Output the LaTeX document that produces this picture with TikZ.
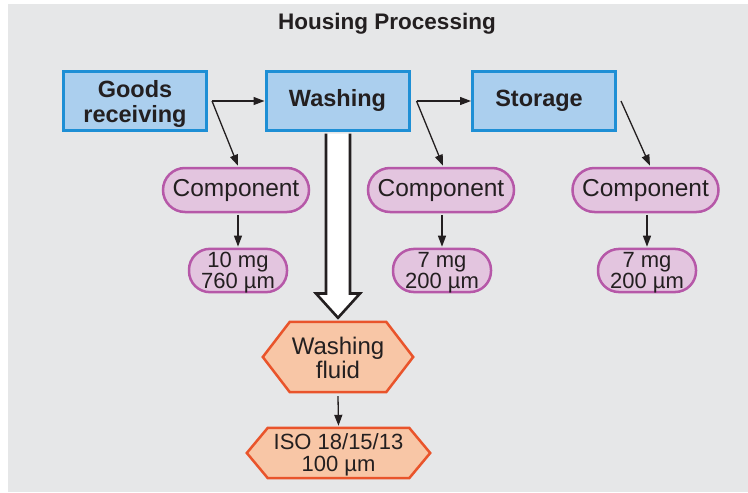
\documentclass[tikz,border=0pt]{standalone}
\usepackage{fontspec}
\setmainfont{Liberation Sans}
\usetikzlibrary{arrows.meta,calc,backgrounds}
\definecolor{bggray}{HTML}{E6E7E8}
\definecolor{boxfill}{HTML}{ABCFEE}
\definecolor{boxline}{HTML}{1E8FD5}
\definecolor{pillfill}{HTML}{E3C5DF}
\definecolor{pillline}{HTML}{B658A8}
\definecolor{hexfill}{HTML}{F8C6A6}
\definecolor{hexline}{HTML}{E9542B}
\definecolor{ink}{HTML}{231F20}
\newcommand{\lowertxt}[2]{\raisebox{-#1}[\height][\depth]{\begin{tabular}{@{}c@{}}#2\end{tabular}}}
\tikzset{
  stepbox/.style={draw=boxline, fill=boxfill, line width=3pt, minimum width=143pt, minimum height=59pt, inner sep=0pt, align=center, text=ink, font=\bfseries\fontsize{23.5}{24}\selectfont},
  bigpill/.style={draw=pillline, fill=pillfill, line width=2.5pt, rounded corners=22pt, minimum width=146pt, minimum height=44pt, inner sep=0pt, align=center, text=ink, font=\fontsize{24.5}{24}\selectfont},
  smallpill/.style={draw=pillline, fill=pillfill, line width=2.5pt, rounded corners=21pt, minimum width=98pt, minimum height=43pt, inner sep=0pt, align=center, text=ink, font=\fontsize{22}{21}\selectfont},
  hextext/.style={inner sep=0pt, align=center, text=ink},
  hexshape/.style={draw=hexline, fill=hexfill, line width=2.5pt, line join=miter},
  conn/.style={draw=ink, line width=1.3pt, -{Triangle[length=11pt,width=8pt]}},
  hollow/.style={draw=ink, fill=white, line width=2.6pt, line join=miter}
}
\begin{document}
\begin{tikzpicture}[x=1pt,y=-1pt]
\useasboundingbox (0,0) rectangle (748,493);
% title
\node[font=\bfseries\fontsize{22.5}{24}\selectfont, text=ink] (title) at (387,23.5) {Housing Processing};
% main steps
\node[stepbox] (gr) at (135,101) {\lowertxt{4pt}{Goods\\receiving}};
\node[stepbox] (wash) at (337.5,101) {\lowertxt{1pt}{Washing}};
\node[stepbox] (st) at (544,101) {\hspace*{-10pt}\lowertxt{1pt}{Storage}};
% components
\node[bigpill] (c1) at (236,190) {\lowertxt{1.5pt}{Component}};
\node[bigpill] (c2) at (441,190) {\lowertxt{1.5pt}{Component}};
\node[bigpill] (c3) at (645.5,190) {\lowertxt{1.5pt}{Component}};
\node[smallpill] (s1) at (238,270.5) {\lowertxt{3pt}{10 mg\\760 µm}};
\node[smallpill] (s2) at (442,270.5) {\lowertxt{3pt}{7 mg\\200 µm}};
\node[smallpill] (s3) at (647,270.5) {\lowertxt{3pt}{7 mg\\200 µm}};
% hexagon texts
\node[hextext, minimum width=150pt, minimum height=70pt, font=\fontsize{24}{22}\selectfont] (wf) at (338,357) {\lowertxt{4pt}{Washing\\fluid}};
\node[hextext, minimum width=183pt, minimum height=50pt, font=\fontsize{22}{20}\selectfont] (iso) at (338.5,453) {\lowertxt{2.5pt}{ISO 18/15/13\\100 µm}};
\begin{scope}[on background layer]
  \fill[bggray] (8,4) rectangle (748,492);
  \path[hexshape] (wf.west) -- ($(wf.north west)+(27,0)$) -- ($(wf.north east)+(-27,0)$) -- (wf.east) -- ($(wf.south east)+(-27,0)$) -- ($(wf.south west)+(27,0)$) -- cycle;
  \path[hexshape] (iso.west) -- ($(iso.north west)+(21,0)$) -- ($(iso.north east)+(-21,0)$) -- (iso.east) -- ($(iso.south east)+(-21,0)$) -- ($(iso.south west)+(21,0)$) -- cycle;
\end{scope}
% connectors
\coordinate (b1) at ($(gr.east)+(4,0)$);
\coordinate (b2) at ($(wash.east)+(6,0)$);
\coordinate (b3) at ($(st.east)+(4,0)$);
\draw[conn] (b1) -- (wash.west);
\draw[conn] (b1) -- ($(c1.north)+(2,-1)$);
\draw[conn] (b2) -- (st.west);
\draw[conn] (b2) -- ($(c2.north)+(2,-1)$);
\draw[conn] (b3) -- ($(c3.north)+(4.5,-1)$);
\draw[conn] (c1.south) ++(2,1.5) -- ($(s1.north)+(0,-1)$);
\draw[conn] (c2.south) ++(1,1.5) -- ($(s2.north)+(0,-1)$);
\draw[conn] (c3.south) ++(1.5,1.5) -- ($(s3.north)+(0,-1)$);
\draw[conn] ($(wf.south)+(0,4)$) -- ($(iso.north)+(0,-2)$);
% hollow arrow
\path[hollow] ($(wash.south)+(-11.5,1.5)$) -- ++(0,160) -- ++(-10,0) -- ($(wf.north)+(0,-4)$) -- ($(wash.south)+(22.5,161.5)$) -- ++(-10,0) -- ($(wash.south)+(12.5,1.5)$);
\end{tikzpicture}
\end{document}
